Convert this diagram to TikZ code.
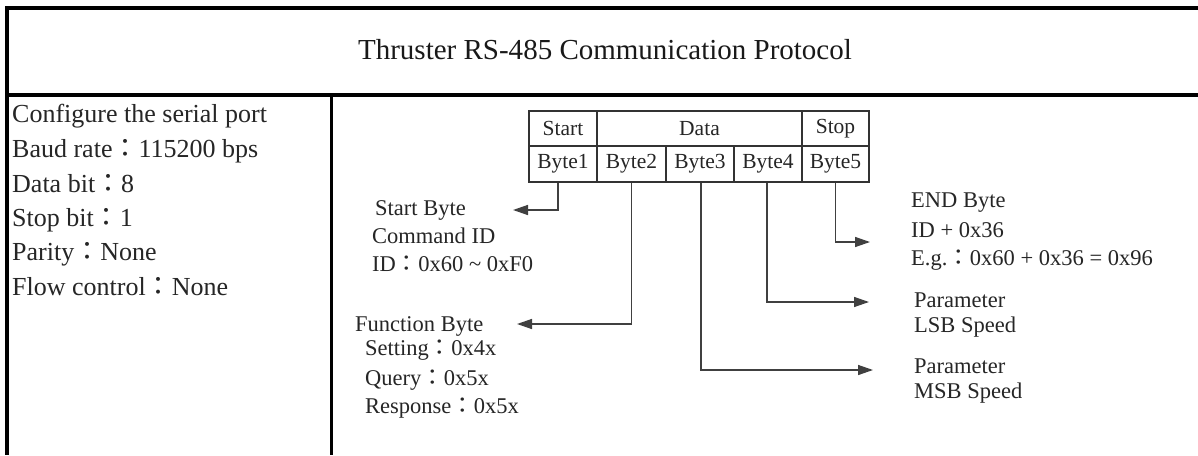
\documentclass[tikz,border=0pt]{standalone}
\usepackage{fontspec}
\setmainfont{Liberation Serif}
\newfontfamily\cjkfont{Noto Sans CJK TC}
\usetikzlibrary{arrows.meta}
\newcommand\fc{{\cjkfont ：}}
\tikzset{
 frame/.style={line width=3.5pt, draw=black},
 cell/.style={draw=black!80, line width=1.1pt, inner sep=0pt, font=\fontsize{21.5}{21.5}\selectfont, text=black!85},
 conn/.style={draw=black!75, line width=1.4pt, -{Triangle[length=15pt,width=10pt]}},
 lefttxt/.style={anchor=base west, inner sep=0pt, font=\fontsize{26}{26}\selectfont, text=black!85},
 lbl/.style={anchor=base west, inner sep=0pt, font=\fontsize{22.5}{22.5}\selectfont, text=black!85},
 titletxt/.style={anchor=base, inner sep=0pt, font=\fontsize{29}{29}\selectfont, text=black!90},
}
\begin{document}
\begin{tikzpicture}[x=1pt,y=-1pt]
\useasboundingbox[fill=white] (0,0) rectangle (1198,455);
% frame
\draw[frame] (1198,8) -- (7,8) -- (7,455);
\draw[frame] (7,95) -- (1198,95);
\draw[frame] (331.5,95) -- (331.5,455);
% title
\node[titletxt] (title) at (605,59) {Thruster RS-485 Communication Protocol};
% left column
\node[lefttxt] (c1) at (12,122) {Configure the serial port};
\node[lefttxt] (c2) at (12,157) {Baud rate\fc 115200 bps};
\node[lefttxt] (c3) at (12,192) {Data bit\fc 8};
\node[lefttxt] (c4) at (12,226) {Stop bit\fc 1};
\node[lefttxt] (c5) at (12,260) {Parity\fc None};
\node[lefttxt] (c6) at (12,295) {Flow control\fc None};
% table
\node[cell, minimum width=68pt, minimum height=35pt] (hstart) at (563,128.5) {Start};
\node[cell, minimum width=205pt, minimum height=35pt] (hdata) at (699.5,128.5) {Data};
\node[cell, minimum width=67pt, minimum height=35pt] (hstop) at (835.5,128.5) {Stop};
\node[cell, minimum width=68pt, minimum height=36pt] (b1) at (563,164) {Byte1};
\node[cell, minimum width=69pt, minimum height=36pt] (b2) at (631.5,164) {Byte2};
\node[cell, minimum width=68pt, minimum height=36pt] (b3) at (700,164) {Byte3};
\node[cell, minimum width=68pt, minimum height=36pt] (b4) at (768,164) {Byte4};
\node[cell, minimum width=67pt, minimum height=36pt] (b5) at (835.5,164) {Byte5};
% arrow ends
\coordinate (t1) at (513,210);
\coordinate (t2) at (517,324);
\coordinate (t3) at (873,370);
\coordinate (t4) at (869,302);
\coordinate (t5) at (870,242);
\draw[conn] ([xshift=-5pt]b1.south) |- (t1);
\draw[conn] (b2.south) |- (t2);
\draw[conn] ([xshift=1pt]b3.south) |- (t3);
\draw[conn] ([xshift=-1pt]b4.south) |- (t4);
\draw[conn] (b5.south) |- (t5);
% labels left
\node[lbl] (l1) at (375,215) {Start Byte};
\node[lbl] (l2) at (372,243) {Command ID};
\node[lbl] (l3) at (372,271) {ID\fc 0x60 \textasciitilde\ 0xF0};
\node[lbl] (f1) at (355,331) {Function Byte};
\node[lbl] (f2) at (365,355) {Setting\fc 0x4x};
\node[lbl] (f3) at (365,385) {Query\fc 0x5x};
\node[lbl] (f4) at (365,413) {Response\fc 0x5x};
% labels right
\node[lbl] (e1) at (911,207) {END Byte};
\node[lbl] (e2) at (911,237) {ID + 0x36};
\node[lbl] (e3) at (911,265) {E.g.\fc 0x60 + 0x36 = 0x96};
\node[lbl] (p1) at (914,307) {Parameter};
\node[lbl] (p2) at (914,332) {LSB Speed};
\node[lbl] (m1) at (914,373) {Parameter};
\node[lbl] (m2) at (914,398) {MSB Speed};
\end{tikzpicture}
\end{document}
